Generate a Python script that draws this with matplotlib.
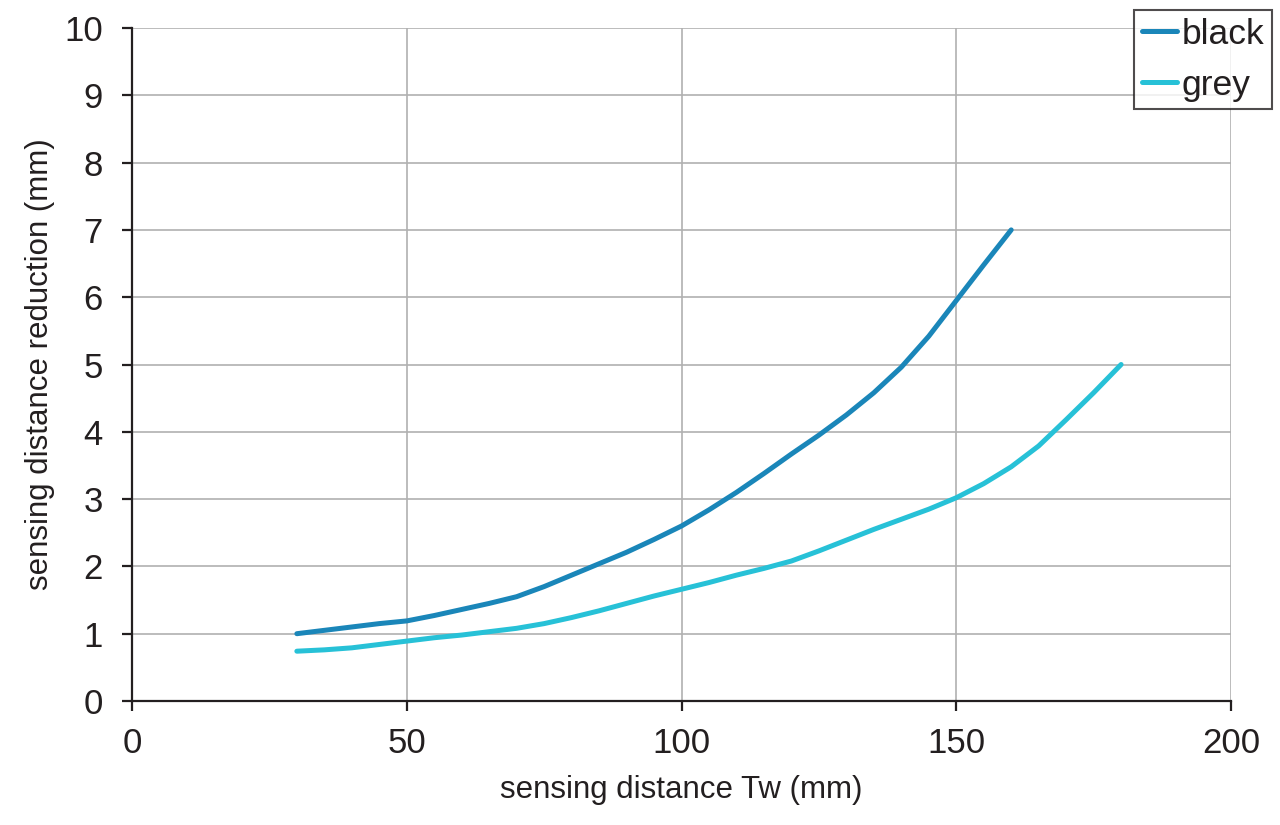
import matplotlib
matplotlib.use("Agg")
import matplotlib.pyplot as plt
from matplotlib import font_manager as fm

# Data
black_x = [30, 35, 40, 45, 50, 55, 60, 65, 70, 75, 80, 85, 90, 95, 100,
           105, 110, 115, 120, 125, 130, 135, 140, 145, 150, 155, 160]
black_y = [1.00, 1.05, 1.10, 1.15, 1.19, 1.27, 1.36, 1.45, 1.55, 1.70, 1.87, 2.04, 2.21, 2.40, 2.60,
           2.84, 3.10, 3.38, 3.67, 3.95, 4.25, 4.58, 4.96, 5.42, 5.95, 6.48, 7.00]

grey_x = [30, 35, 40, 45, 50, 55, 60, 65, 70, 75, 80, 85, 90, 95, 100,
          105, 110, 115, 120, 125, 130, 135, 140, 145, 150, 155, 160, 165, 170, 175, 180]
grey_y = [0.74, 0.76, 0.79, 0.84, 0.89, 0.94, 0.98, 1.03, 1.08, 1.15, 1.24, 1.34, 1.45, 1.56, 1.66,
          1.76, 1.87, 1.97, 2.08, 2.23, 2.39, 2.55, 2.70, 2.85, 3.02, 3.23, 3.48, 3.79, 4.18, 4.58, 5.00]

x_ticks = [0, 50, 100, 150, 200]
y_ticks = list(range(0, 11))
series_names = ["black", "grey"]
colors = ["#1a86b9", "#27c1d7"]

# pick the regular Liberation Sans file explicitly
fam = 'Liberation Sans'
for f in fm.fontManager.ttflist:
    p = f.fname.lower()
    if 'liberationsans-regular' in p.replace('_', '-'):
        fm.fontManager.addfont(f.fname)
        fam = fm.FontProperties(fname=f.fname).get_name()
        break
plt.rcParams['font.family'] = [fam, 'DejaVu Sans']

ink = '#231f20'
fig = plt.figure(figsize=(12.8, 8.25), dpi=100)
ax = fig.add_axes([132/1280, 1 - 701/825, (1231 - 132)/1280, (701 - 28)/825])

ax.plot(black_x, black_y, color=colors[0], lw=3.6, label=series_names[0],
        solid_capstyle='round', solid_joinstyle='round', zorder=3)
ax.plot(grey_x, grey_y, color=colors[1], lw=3.6, label=series_names[1],
        solid_capstyle='round', solid_joinstyle='round', zorder=3)

ax.set_xlim(0, 200)
ax.set_ylim(0, 10)
ax.set_xticks(x_ticks)
ax.set_yticks(y_ticks)
ax.grid(True, color='#b0b0b0', lw=1.2, zorder=0)
ax.set_axisbelow(True)
for s in ['top', 'right']:
    ax.spines[s].set_visible(False)
for s in ['left', 'bottom']:
    ax.spines[s].set_color(ink)
    ax.spines[s].set_linewidth(1.6)
ax.tick_params(axis='both', direction='out', length=7, width=1.6, color=ink,
               labelsize=25, labelcolor=ink)
ax.tick_params(axis='x', pad=11.5)
ax.tick_params(axis='y', pad=14)

xl = ax.set_xlabel("sensing distance Tw (mm)", fontsize=22.5, color=ink)
yl = ax.set_ylabel("sensing distance reduction (mm)", fontsize=22.5, color=ink)
ax.xaxis.set_label_coords(0.5, (701 - 790) / 673)
ax.yaxis.set_label_coords((40 - 132) / 1099, 0.5)
xl.set_va('center')
yl.set_va('center')

leg = fig.legend(loc='upper left', bbox_to_anchor=(1134/1280, 1 - 10/825),
                 fontsize=25.5, frameon=True, fancybox=False, handlelength=1.0,
                 handletextpad=0.12, borderpad=0.22, labelspacing=0.5,
                 borderaxespad=0)
leg.get_frame().set_edgecolor(ink)
leg.get_frame().set_linewidth(1.5)
for t in leg.get_texts():
    t.set_color(ink)

fig.savefig("out.png", dpi=100)
